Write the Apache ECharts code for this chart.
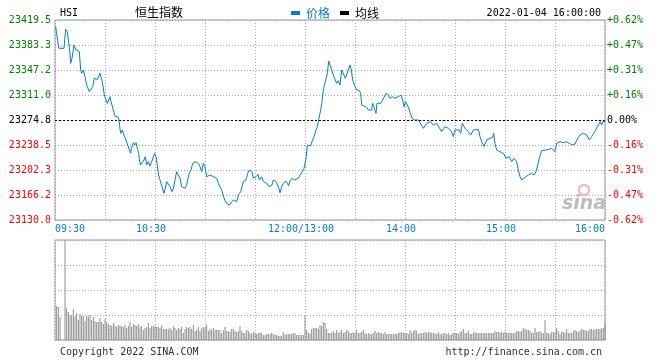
<!DOCTYPE html>
<html><head><meta charset="utf-8">
<script src="https://cdn.jsdelivr.net/npm/echarts@6/dist/echarts.min.js"></script>
<style>html,body{margin:0;padding:0;background:#fff}#c{width:660px;height:360px}</style>
</head><body><div id="c"></div>
<script>
// ---- data (minutes from 09:30, lunch break removed) ----
const tickMinutes = [0, 60, 150, 210, 270, 330];
const tickLabels = ['09:30', '10:30', '12:00/13:00', '14:00', '15:00', '16:00'];
const priceLabels = ['23130.0','23166.2','23202.3','23238.5','23274.8','23311.0','23347.2','23383.3','23419.5'];
const pctLabels = ['-0.62%','-0.47%','-0.31%','-0.16%','0.00%','+0.16%','+0.31%','+0.47%','+0.62%'];
const priceMin = 23130.0, priceMax = 23419.5, prevClose = 23274.8;

const priceMinutes = [0.4,2,2.4,5.4,6.4,7.4,9,9.4,10.2,11.4,12.6,14.6,15.4,16,17,17.8,19,20.6,21.4,22.6,23.6,24.6,25.4,27,28.4,29.6,30.6,31.4,32,33,33.6,35,36.2,37,37.6,38.4,38.8,39.4,40.4,41.4,42.6,43.6,44.6,45.4,45.8,47,48,48.6,49.4,50.2,50.6,51.4,52.6,53.4,54.2,55,56,57,58,59,59.8,60.6,61.2,62.2,63,64.2,65.4,66.2,67,68,69,70.2,71,72,73,74,75,76,77,78,79,79.8,80.6,81.6,82.6,84,85,86,87,88,89,90,91,93,95,97,98,99,100,100.8,101.8,103,103.8,104.6,105.4,107,108.2,109,110,111.4,112.4,113,114.6,115.6,116.6,117.4,118.2,119,120.6,121.8,122.6,124,125,127,128.4,129.4,130.2,131,132.6,133.6,134.4,135,136,137,138.4,139.4,140.2,141,142.2,143.8,145,146,147,147.6,148.4,149.4,150.2,150.8,151.4,152.2,153.4,154.2,155.4,156.6,157.4,158.2,159,159.6,160.2,160.6,161.4,162.2,162.8,163.2,163.6,164.2,165,166,167,168.2,169,170,171,172,173,174.2,175,176,177,177.8,178.6,179.4,180,181,182.6,183.4,184,185,187,188,189,190,190.6,191.4,192.6,193.2,194.4,195.4,196.6,197.4,198.6,200,201,202.4,204,206,207.6,208.6,209.4,210.2,211.4,212.6,214.2,215.6,216.6,218,219,221,223,225,227,229,232,232.6,234,236,238,239,240,241,242.6,243.4,244.4,246,248,249.4,251,254,255,256,257.4,259,261,262.6,263.2,264,265,267,269,270.6,271.4,272.6,274,275.4,276.6,277,278,279,280,281,282.6,284,286,287.4,288.6,289.4,290.6,292,295,298,300,301,303,305,307,310,312,313,315,317,319,320.6,322,323,324.4,326,327,328,328.6,329,329.6,330];
const priceValues = [23409.9,23383.3,23378.5,23378.5,23406.0,23402.6,23371.3,23356.8,23364.0,23383.3,23376.1,23373.7,23347.1,23342.3,23347.1,23339.9,23325.4,23315.8,23313.4,23323.0,23335.1,23337.5,23333.6,23342.3,23330.2,23310.9,23303.7,23298.9,23301.3,23308.5,23301.3,23289.2,23279.6,23277.2,23279.6,23274.8,23265.1,23255.5,23260.3,23253.0,23245.8,23238.6,23236.2,23226.5,23233.7,23241.9,23238.6,23241.9,23233.7,23226.5,23216.9,23209.6,23209.6,23216.9,23221.7,23209.6,23214.4,23208.2,23214.4,23212.0,23226.5,23221.7,23212.0,23195.1,23187.9,23178.2,23168.6,23175.8,23185.5,23187.9,23178.2,23171.0,23175.8,23187.9,23200.0,23200.0,23190.3,23178.2,23180.7,23175.8,23180.7,23190.3,23197.6,23202.4,23212.0,23214.4,23216.9,23212.0,23207.2,23200.0,23212.0,23207.2,23192.7,23195.1,23192.7,23190.3,23183.1,23180.7,23173.4,23175.8,23158.9,23154.1,23156.5,23151.7,23149.3,23158.9,23161.4,23156.5,23166.2,23171.0,23171.0,23185.5,23187.9,23197.6,23202.4,23204.8,23200.0,23190.3,23192.7,23196.1,23187.9,23192.7,23185.5,23183.1,23178.2,23175.8,23180.7,23187.9,23185.5,23183.1,23175.8,23169.6,23178.2,23183.1,23186.5,23183.1,23179.7,23186.5,23190.3,23187.9,23185.5,23190.3,23195.1,23192.7,23200.0,23204.8,23204.8,23221.7,23238.6,23237.1,23237.1,23243.4,23250.6,23260.3,23265.1,23274.8,23284.4,23291.6,23301.3,23310.9,23323.0,23330.2,23332.7,23339.9,23347.1,23360.2,23354.4,23347.1,23339.9,23332.7,23327.8,23331.7,23325.4,23347.1,23349.5,23335.1,23339.9,23347.1,23354.4,23347.1,23332.7,23330.2,23323.0,23318.2,23317.2,23313.4,23296.5,23294.0,23293.1,23289.2,23291.6,23289.2,23298.9,23293.1,23284.4,23298.9,23301.3,23298.9,23303.7,23306.1,23313.4,23310.9,23306.1,23308.5,23306.1,23308.5,23310.9,23303.7,23294.0,23301.3,23296.5,23289.2,23277.2,23274.8,23272.3,23274.8,23274.8,23262.7,23269.9,23272.3,23267.5,23269.9,23257.9,23255.5,23265.1,23262.7,23257.9,23250.6,23260.3,23257.9,23260.3,23255.5,23269.9,23262.7,23257.9,23253.0,23260.3,23261.2,23250.6,23243.4,23236.2,23245.8,23248.2,23249.7,23255.5,23241.0,23231.3,23228.9,23226.5,23219.3,23216.9,23221.7,23214.4,23219.3,23219.3,23214.4,23202.4,23192.7,23187.9,23190.3,23192.7,23195.1,23197.6,23195.1,23200.0,23207.2,23219.3,23230.4,23231.3,23233.7,23228.9,23241.0,23243.4,23241.9,23243.4,23238.6,23240.0,23245.8,23253.0,23255.5,23253.0,23245.8,23250.6,23253.0,23260.3,23267.5,23272.3,23267.5,23272.3,23269.9,23274.8,23272.3];

// volume per minute (relative units, panel max = 100)
const volumeValues = [0,34,33,23,0,0,100,32,28,24,25,31,24,27,20,26,24,24,19,24,23,25,20,23,19,18,18,22,18,16,21,18,16,15,14,17,14,13,15,14,14,13,15,12,14,18,13,16,15,14,16,13,14,10,12,13,17,12,14,14,14,13,13,12,15,11,11,11,11,12,10,14,12,10,12,11,13,7,11,13,12,13,11,15,9,10,13,9,12,13,12,15,9,11,10,12,10,10,10,10,7,10,13,9,9,8,11,11,9,8,9,14,9,7,7,10,9,7,6,8,7,6,7,7,7,5,5,6,6,6,7,6,5,5,4,4,4,8,5,6,6,6,6,7,7,5,5,5,5,5,24,10,7,6,11,12,12,12,11,15,14,18,17,11,7,7,7,9,7,10,7,8,10,7,8,10,9,7,7,8,7,10,7,7,8,10,7,6,7,6,6,7,9,7,8,7,7,6,8,6,6,6,6,6,6,6,7,7,8,7,7,7,6,10,7,9,10,9,6,7,7,7,8,7,8,8,7,7,7,6,8,6,6,7,7,6,7,5,6,7,7,7,6,8,9,11,7,7,9,6,6,7,8,7,7,7,7,7,7,7,7,7,7,7,9,8,8,7,8,7,8,7,7,7,7,7,7,9,9,8,9,12,11,10,10,9,7,7,12,8,8,9,7,7,20,7,7,6,8,8,8,12,9,6,8,8,7,11,7,7,7,9,10,9,8,9,11,10,10,9,9,11,11,10,11,11,11,11,12,12,17];

const seriesNames = ['价格', '均线'];
const dateText = '2022-01-04 16:00:00';

// ---- chart ----
const BLUE = '#0a7bcd', GREEN = '#008000', RED = '#ff0000';
const MONO = '"DejaVu Sans Mono", "Liberation Mono", monospace';
const CJK = '"Noto Sans CJK SC", sans-serif';
const step = (priceMax - priceMin) / 8;
const idxOf = v => Math.round((v - priceMin) / step);
const tickColor = v => { const i = idxOf(v); return i > 4 ? GREEN : (i === 4 ? '#000' : RED); };
const gridLine = { show: true, lineStyle: { color: '#a8a8a8', type: [1, 2], width: 1 } };

const chart = echarts.init(document.getElementById('c'), null, { renderer: 'canvas' });
chart.setOption({
  animation: false,
  backgroundColor: '#fff',
  title: [
    { text: 'HSI', left: 55, top: 3, textStyle: { fontFamily: MONO, fontSize: 10, fontWeight: 'normal', color: '#000' } },
    { text: '恒生指数', left: 130, top: 1, textStyle: { fontFamily: CJK, fontSize: 12, fontWeight: 'normal', color: '#000' } },
    { text: dateText, right: 54, top: 3, textStyle: { fontFamily: MONO, fontSize: 10, fontWeight: 'normal', color: '#000' } },
    { text: 'Copyright 2022 SINA.COM', left: 55, top: 342, textStyle: { fontFamily: MONO, fontSize: 10, fontWeight: 'normal', color: '#333' } },
    { text: 'http://finance.sina.com.cn', right: 53, top: 342, textStyle: { fontFamily: MONO, fontSize: 10, fontWeight: 'normal', color: '#333' } }
  ],
  legend: {
    left: 286, top: 2, icon: 'rect', itemWidth: 9, itemHeight: 4, itemGap: 10,
    selectedMode: false,
    textStyle: { fontFamily: CJK, fontSize: 12, padding: [0, 0, 0, 1] },
    data: [
      { name: seriesNames[0], textStyle: { color: BLUE } },
      { name: seriesNames[1], textStyle: { color: '#000' } }
    ]
  },
  grid: [
    { left: 55, right: 55, top: 20, height: 200, show: true, borderColor: '#999', borderWidth: 1, containLabel: false },
    { left: 55, right: 55, top: 240, height: 100, show: true, borderColor: '#999', borderWidth: 1, containLabel: false }
  ],
  xAxis: [
    {
      type: 'value', gridIndex: 0, min: 0, max: 330, interval: 30,
      axisLine: { show: false }, axisTick: { show: false },
      splitLine: gridLine,
      axisLabel: {
        show: true, margin: 4, fontFamily: MONO, fontSize: 10, color: BLUE,
        showMinLabel: true, showMaxLabel: true,
        alignMinLabel: 'left', alignMaxLabel: 'right',
        formatter: v => { const i = tickMinutes.indexOf(v); if (i < 0) return ''; return (i === 0 || i === tickLabels.length - 1) ? tickLabels[i] : '{m|' + tickLabels[i] + '}'; },
        rich: { m: { fontFamily: MONO, fontSize: 10, color: BLUE, padding: [0, 8, 0, 0] } }
      }
    },
    {
      type: 'value', gridIndex: 1, min: 0, max: 330, interval: 30,
      axisLine: { show: false }, axisTick: { show: false }, axisLabel: { show: false },
      splitLine: gridLine
    }
  ],
  yAxis: [
    {
      type: 'value', gridIndex: 0, position: 'left', min: priceMin, max: priceMax, interval: step,
      axisLine: { show: false }, axisTick: { show: false },
      splitLine: gridLine,
      axisLabel: {
        margin: 4, fontFamily: MONO, fontSize: 10, color: v => tickColor(v),
        showMinLabel: true, showMaxLabel: true,
        formatter: v => priceLabels[idxOf(v)] || ''
      }
    },
    {
      type: 'value', gridIndex: 0, position: 'right', min: priceMin, max: priceMax, interval: step,
      axisLine: { show: false }, axisTick: { show: false }, splitLine: { show: false },
      axisLabel: {
        margin: 2, fontFamily: MONO, fontSize: 10, color: v => tickColor(v),
        showMinLabel: true, showMaxLabel: true,
        formatter: v => pctLabels[idxOf(v)] || ''
      }
    },
    {
      type: 'value', gridIndex: 1, min: 0, max: 100, interval: 25,
      axisLine: { show: false }, axisTick: { show: false }, axisLabel: { show: false },
      splitLine: gridLine
    }
  ],
  graphic: [
    { type: 'circle', shape: { cx: 584, cy: 190, r: 5 }, style: { fill: 'none', stroke: '#f3b9b9', lineWidth: 2.5 }, z: 1 },
    { type: 'text', x: 584, y: 204, style: { text: 'sina', fill: '#bdbdbd', font: 'italic bold 19px "DejaVu Sans", sans-serif', textAlign: 'center', textVerticalAlign: 'middle' }, z: 1 }
  ],
  series: [
    {
      name: seriesNames[0], type: 'line', xAxisIndex: 0, yAxisIndex: 0,
      data: priceMinutes.map((m, i) => [m, priceValues[i]]),
      showSymbol: false, symbol: 'none', color: BLUE,
      lineStyle: { color: BLUE, width: 1 }, z: 5,
      markLine: {
        silent: true, symbol: 'none', label: { show: false },
        lineStyle: { color: '#000', type: [2, 2], width: 1 },
        data: [{ yAxis: prevClose }]
      }
    },
    {
      name: seriesNames[1], type: 'line', xAxisIndex: 0, yAxisIndex: 0,
      data: [], showSymbol: false, color: '#000', lineStyle: { color: '#000', width: 1 }
    },
    {
      name: '成交量', type: 'bar', xAxisIndex: 1, yAxisIndex: 2,
      data: volumeValues.map((v, i) => [i, v]),
      barWidth: 1, itemStyle: { color: '#8f8f8f' }, silent: true
    }
  ]
});
</script></body></html>
